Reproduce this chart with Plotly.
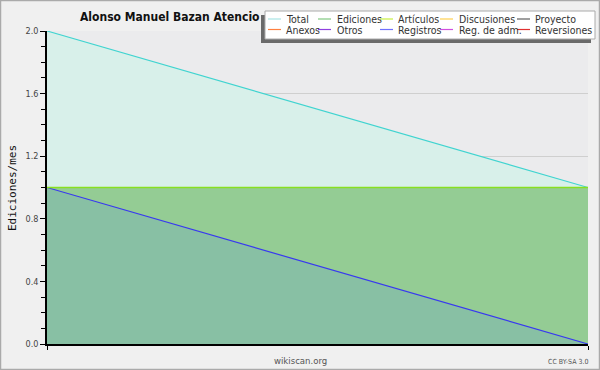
import plotly.graph_objects as go

# ---- data ----
months = [0, 1]
total = [2.0, 1.0]
ediciones = [1.0, 1.0]
articulos = [1.0, 1.0]
registros = [1.0, 0.0]

legend_names = ["Total", "Ediciones", "Artículos", "Discusiones", "Proyecto",
                "Anexos", "Otros", "Registros", "Reg. de adm.", "Reversiones"]
legend_colors = ["#a8e4e4", "#80c880", "#c8f040", "#ffd050", "#606060",
                 "#ff8040", "#9040e0", "#7070ff", "#d050e0", "#e03030"]

title_text = "Alonso Manuel Bazan Atencio"
y_title = "Ediciones/mes"

W, H = 600, 370
L, R, T, B = 47, 12, 31, 26
PW, PH = W - L - R, H - T - B
FONT = "DejaVu Sans Condensed, Liberation Sans Narrow, DejaVu Sans"


def px(x):
    return (x - L) / PW


def py(y):
    return (H - B - y) / PH


fig = go.Figure()
fig.add_trace(go.Scatter(x=months, y=total, mode="lines", fill="tozeroy",
                         fillcolor="#d8f0ea", line=dict(color="#40d4d0", width=1.2),
                         showlegend=False, hoverinfo="skip"))
fig.add_trace(go.Scatter(x=months, y=ediciones, mode="lines", fill="tozeroy",
                         fillcolor="#94cc94", line=dict(color="#80c880", width=1),
                         showlegend=False, hoverinfo="skip"))
fig.add_trace(go.Scatter(x=months, y=registros, mode="lines", fill="tozeroy",
                         fillcolor="#88c0a4", line=dict(color="#3838f0", width=1.2),
                         showlegend=False, hoverinfo="skip"))
fig.add_trace(go.Scatter(x=months, y=articulos, mode="lines",
                         line=dict(color="#88e020", width=1.5),
                         showlegend=False, hoverinfo="skip"))

shapes = []
annotations = []

# outer border
shapes.append(dict(type="rect", xref="paper", yref="paper",
                   x0=px(0.5), x1=px(W - 0.5), y0=py(H - 0.5), y1=py(0.5),
                   line=dict(color="#aaaaaa", width=1.5), fillcolor="rgba(0,0,0,0)", layer="above"))

# legend box with shadow
shapes.append(dict(type="rect", xref="paper", yref="paper",
                   x0=px(261), x1=px(591), y0=py(43), y1=py(15),
                   line=dict(width=0), fillcolor="#6a6a6a", layer="above"))
shapes.append(dict(type="rect", xref="paper", yref="paper",
                   x0=px(265), x1=px(595), y0=py(39), y1=py(11),
                   line=dict(color="#aaaaaa", width=1), fillcolor="#ffffff", layer="above"))

line_x = [268, 318, 380, 440, 517]
text_x = [284, 335, 396, 457, 533]
row_y = [19, 29.5]
for i, (name, col) in enumerate(zip(legend_names, legend_colors)):
    r, c = divmod(i, 5)
    shapes.append(dict(type="line", xref="paper", yref="paper",
                       x0=px(line_x[c]), x1=px(line_x[c] + 13),
                       y0=py(row_y[r]), y1=py(row_y[r]),
                       line=dict(color=col, width=1.2), layer="above"))
    annotations.append(dict(text=name, xref="paper", yref="paper",
                            x=px(text_x[c]), y=py(row_y[r]), xanchor="left", yanchor="middle",
                            showarrow=False, font=dict(size=10.5, color="#333333", family=FONT)))

# title
annotations.append(dict(text="<b>" + title_text + "</b>", xref="paper", yref="paper",
                        x=px(170), y=py(17), xanchor="center", yanchor="middle", showarrow=False,
                        font=dict(size=12, color="#111111", family=FONT)))
# footer
annotations.append(dict(text="wikiscan.org", xref="paper", yref="paper",
                        x=px(300), y=py(360), xanchor="center", yanchor="middle", showarrow=False,
                        font=dict(size=9.5, color="#555555", family=FONT)))
annotations.append(dict(text="CC BY-SA 3.0", xref="paper", yref="paper",
                        x=px(590), y=py(362), xanchor="right", yanchor="middle", showarrow=False,
                        font=dict(size=7, color="#555555", family=FONT)))
# y title
annotations.append(dict(text=y_title, xref="paper", yref="paper",
                        x=px(12), y=py(188), xanchor="center", yanchor="middle", showarrow=False,
                        textangle=-90, font=dict(size=11, color="#111111", family="DejaVu Sans Mono")))

fig.update_layout(
    width=W, height=H,
    margin=dict(l=L, r=R, t=T, b=B, pad=0),
    paper_bgcolor="#f0f0f0",
    plot_bgcolor="#ebebed",
    showlegend=False,
    shapes=shapes,
    annotations=annotations,
    xaxis=dict(range=[0, 1], tickvals=[0, 1], showticklabels=False, ticks="outside",
               ticklen=4, tickcolor="#000000", showgrid=False, zeroline=False,
               showline=True, linecolor="#000000", linewidth=1.5, fixedrange=True),
    yaxis=dict(range=[0, 2], dtick=0.4, tick0=0, tickformat=".1f", ticks="outside",
               ticklen=5, tickcolor="#000000", showgrid=True, gridcolor="#cfcfcf",
               gridwidth=1, zeroline=False, showline=True, linecolor="#000000",
               linewidth=1.5, tickfont=dict(size=9, color="#444444", family=FONT),
               minor=dict(dtick=0.1, ticks="outside", ticklen=4, tickcolor="#000000", showgrid=False),
               fixedrange=True),
)

fig.write_html("out.html", config={"displayModeBar": False},
               post_script="document.body.style.margin='0px';")
